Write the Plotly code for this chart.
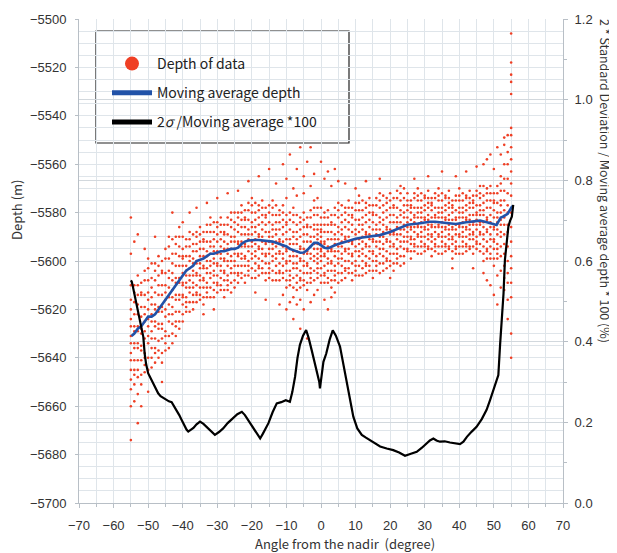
import plotly.graph_objects as go

# ---------------- data ----------------
scatter_angles = list(range(-55, 56))
scatter_depths = [
    [-5610, -5616, -5620, -5624, -5627, -5631, -5634, -5638, -5641, -5645, -5649, -5653, -5582, -5597, -5660, -5674],  # -55
    [-5610, -5613, -5617, -5622, -5627, -5629, -5634, -5636, -5641, -5645, -5647, -5651, -5592, -5658],
    [-5606, -5610, -5614, -5618, -5622, -5627, -5629, -5634, -5636, -5641, -5645, -5648, -5589, -5655, -5667],
    [-5609, -5613, -5614, -5619, -5623, -5628, -5630, -5635, -5637, -5641, -5647, -5651, -5660],
    [-5604, -5608, -5614, -5619, -5622, -5625, -5629, -5632, -5638, -5640, -5643, -5646, -5595],
    [-5599, -5603, -5608, -5613, -5616, -5620, -5624, -5627, -5631, -5634, -5640, -5645, -5654],  # -50
    [-5601, -5607, -5611, -5615, -5618, -5622, -5625, -5629, -5632, -5636, -5640, -5644],
    [-5601, -5604, -5608, -5613, -5618, -5620, -5625, -5627, -5632, -5636, -5638, -5642, -5590],
    [-5598, -5602, -5606, -5610, -5614, -5619, -5621, -5626, -5628, -5633, -5637, -5640],
    [-5600, -5604, -5605, -5610, -5614, -5619, -5621, -5626, -5628, -5632, -5638, -5642, -5650],
    [-5595, -5599, -5605, -5610, -5613, -5616, -5620, -5623, -5629, -5631, -5634, -5637],  # -45
    [-5590, -5594, -5599, -5604, -5607, -5611, -5615, -5618, -5622, -5625, -5631, -5636],
    [-5591, -5597, -5601, -5605, -5608, -5612, -5615, -5619, -5622, -5626, -5630, -5634, -5580],
    [-5590, -5593, -5597, -5602, -5607, -5609, -5614, -5616, -5621, -5625, -5627, -5631],
    [-5586, -5590, -5594, -5598, -5602, -5607, -5609, -5614, -5616, -5621, -5625, -5628],
    [-5595, -5598, -5599, -5602, -5605, -5609, -5610, -5614, -5615, -5618, -5622, -5625, -5584, -5590],  # -40
    [-5591, -5594, -5598, -5602, -5604, -5606, -5609, -5611, -5615, -5617, -5619, -5621],
    [-5588, -5591, -5594, -5598, -5600, -5603, -5606, -5608, -5611, -5613, -5617, -5621, -5580],
    [-5589, -5593, -5596, -5599, -5601, -5604, -5606, -5609, -5611, -5614, -5617, -5620],
    [-5588, -5590, -5593, -5596, -5600, -5601, -5605, -5606, -5610, -5613, -5614, -5617, -5578],
    [-5586, -5589, -5592, -5595, -5598, -5601, -5603, -5606, -5608, -5611, -5614, -5616],  # -35
    [-5588, -5591, -5592, -5595, -5598, -5602, -5603, -5607, -5608, -5611, -5615, -5618, -5622],
    [-5585, -5588, -5592, -5596, -5598, -5600, -5603, -5605, -5609, -5611, -5613, -5615, -5576],
    [-5582, -5585, -5588, -5592, -5594, -5597, -5600, -5602, -5605, -5607, -5611, -5615],
    [-5584, -5588, -5591, -5594, -5596, -5599, -5601, -5604, -5606, -5609, -5612, -5615, -5620],
    [-5584, -5586, -5589, -5592, -5596, -5597, -5601, -5602, -5606, -5609, -5610, -5613, -5574],  # -30
    [-5582, -5585, -5588, -5591, -5594, -5597, -5599, -5602, -5604, -5607, -5610, -5612],
    [-5585, -5588, -5589, -5592, -5595, -5599, -5600, -5604, -5605, -5608, -5612, -5615],
    [-5582, -5585, -5589, -5593, -5595, -5597, -5600, -5602, -5606, -5608, -5610, -5612, -5572],
    [-5580, -5583, -5586, -5590, -5592, -5595, -5598, -5600, -5603, -5605, -5609, -5613],
    [-5580, -5584, -5587, -5590, -5592, -5595, -5597, -5600, -5602, -5605, -5608, -5611],  # -25
    [-5580, -5582, -5585, -5588, -5592, -5593, -5597, -5598, -5602, -5605, -5606, -5609, -5571],
    [-5577, -5580, -5583, -5586, -5589, -5592, -5594, -5597, -5599, -5602, -5605, -5607],
    [-5579, -5582, -5583, -5586, -5589, -5593, -5594, -5598, -5599, -5602, -5606, -5609],
    [-5576, -5579, -5583, -5587, -5589, -5591, -5594, -5596, -5600, -5602, -5604, -5606, -5567],
    [-5574, -5577, -5580, -5584, -5586, -5589, -5592, -5594, -5597, -5599, -5603, -5607],  # -20
    [-5576, -5580, -5583, -5586, -5588, -5591, -5593, -5596, -5598, -5601, -5604, -5607, -5613],
    [-5577, -5579, -5582, -5585, -5589, -5590, -5594, -5595, -5599, -5602, -5603, -5606, -5565],
    [-5575, -5578, -5581, -5584, -5587, -5590, -5592, -5595, -5597, -5600, -5603, -5605],
    [-5578, -5581, -5582, -5585, -5588, -5592, -5593, -5597, -5598, -5601, -5605, -5608, -5616],
    [-5577, -5580, -5584, -5588, -5590, -5592, -5595, -5597, -5601, -5603, -5605, -5607, -5562],  # -15
    [-5575, -5578, -5581, -5585, -5587, -5590, -5593, -5595, -5598, -5600, -5604, -5608],
    [-5577, -5581, -5584, -5587, -5589, -5592, -5594, -5597, -5599, -5602, -5605, -5608, -5568],
    [-5579, -5581, -5584, -5587, -5591, -5592, -5596, -5597, -5601, -5604, -5605, -5608, -5618],
    [-5577, -5580, -5583, -5586, -5589, -5592, -5594, -5597, -5599, -5602, -5605, -5607, -5560, -5614],
    [-5581, -5584, -5585, -5588, -5591, -5595, -5596, -5600, -5601, -5604, -5608, -5611, -5566, -5574, -5620],  # -10
    [-5580, -5583, -5587, -5591, -5593, -5595, -5598, -5600, -5604, -5606, -5608, -5610, -5556, -5617],
    [-5578, -5581, -5584, -5588, -5590, -5593, -5596, -5598, -5601, -5603, -5607, -5611, -5570, -5615, -5624],
    [-5581, -5585, -5588, -5591, -5593, -5596, -5598, -5601, -5603, -5606, -5609, -5612, -5562, -5573, -5618],
    [-5582, -5584, -5587, -5590, -5594, -5595, -5599, -5600, -5604, -5607, -5608, -5611, -5553, -5616, -5628],
    [-5580, -5583, -5586, -5589, -5592, -5595, -5597, -5600, -5602, -5605, -5608, -5610, -5565, -5572, -5620],  # -5
    [-5582, -5585, -5586, -5589, -5592, -5596, -5597, -5601, -5602, -5605, -5609, -5612, -5559, -5632],
    [-5579, -5582, -5586, -5590, -5592, -5594, -5597, -5599, -5603, -5605, -5607, -5609, -5553, -5569, -5617],
    [-5575, -5578, -5581, -5585, -5587, -5590, -5593, -5595, -5598, -5600, -5604, -5608, -5564, -5614],
    [-5585, -5587, -5589, -5591, -5593, -5595, -5597, -5599, -5601, -5603, -5605, -5607, -5578, -5581, -5612, -5574],
    [-5578, -5582, -5585, -5588, -5590, -5593, -5595, -5598, -5600, -5603, -5606, -5609, -5559, -5587, -5592, -5596],  # 0
    [-5580, -5582, -5585, -5588, -5592, -5593, -5597, -5598, -5602, -5605, -5606, -5609, -5566, -5616],
    [-5579, -5582, -5585, -5588, -5591, -5594, -5596, -5599, -5601, -5604, -5607, -5609, -5563, -5620],
    [-5581, -5584, -5585, -5588, -5591, -5595, -5596, -5600, -5601, -5604, -5608, -5611, -5569, -5615],
    [-5578, -5581, -5585, -5589, -5591, -5593, -5596, -5598, -5602, -5604, -5606, -5608, -5562, -5613],
    [-5576, -5579, -5582, -5586, -5588, -5591, -5594, -5596, -5599, -5601, -5605, -5609, -5567],  # 5
    [-5577, -5581, -5584, -5587, -5589, -5592, -5594, -5597, -5599, -5602, -5605, -5608],
    [-5578, -5580, -5583, -5586, -5590, -5591, -5595, -5596, -5600, -5603, -5604, -5607, -5568],
    [-5575, -5578, -5581, -5584, -5587, -5590, -5592, -5595, -5597, -5600, -5603, -5605],
    [-5578, -5581, -5582, -5585, -5588, -5592, -5593, -5597, -5598, -5601, -5605, -5608],
    [-5576, -5579, -5583, -5587, -5589, -5591, -5594, -5596, -5600, -5602, -5604, -5606, -5570],  # 10
    [-5573, -5576, -5579, -5583, -5585, -5588, -5591, -5593, -5596, -5598, -5602, -5606],
    [-5575, -5579, -5582, -5585, -5587, -5590, -5592, -5595, -5597, -5600, -5603, -5606],
    [-5576, -5578, -5581, -5584, -5588, -5589, -5593, -5594, -5598, -5601, -5602, -5605, -5567],
    [-5574, -5577, -5580, -5583, -5586, -5589, -5591, -5594, -5596, -5599, -5602, -5604],
    [-5577, -5580, -5581, -5584, -5587, -5591, -5592, -5596, -5597, -5600, -5604, -5607],  # 15
    [-5574, -5577, -5581, -5585, -5587, -5589, -5592, -5594, -5598, -5600, -5602, -5604],
    [-5572, -5575, -5578, -5582, -5584, -5587, -5590, -5592, -5595, -5597, -5601, -5605, -5566],
    [-5573, -5577, -5580, -5583, -5585, -5588, -5590, -5593, -5595, -5598, -5601, -5604],
    [-5574, -5576, -5579, -5582, -5586, -5587, -5591, -5592, -5596, -5599, -5600, -5603],
    [-5572, -5575, -5578, -5581, -5584, -5587, -5589, -5592, -5594, -5597, -5600, -5602, -5607],  # 20
    [-5574, -5577, -5578, -5581, -5584, -5588, -5589, -5593, -5594, -5597, -5601, -5604],
    [-5571, -5574, -5578, -5582, -5584, -5586, -5589, -5591, -5595, -5597, -5599, -5601],
    [-5569, -5572, -5575, -5579, -5581, -5584, -5587, -5589, -5592, -5594, -5598, -5602],
    [-5570, -5574, -5577, -5580, -5582, -5585, -5587, -5590, -5592, -5595, -5598, -5601],
    [-5572, -5575, -5577, -5579, -5582, -5584, -5586, -5588, -5590, -5592, -5595, -5596],  # 25
    [-5575, -5577, -5578, -5580, -5583, -5586, -5587, -5590, -5591, -5593, -5596, -5599],
    [-5572, -5574, -5578, -5581, -5582, -5584, -5586, -5588, -5591, -5593, -5594, -5596, -5566],
    [-5570, -5573, -5575, -5578, -5580, -5582, -5585, -5586, -5589, -5590, -5594, -5597],
    [-5572, -5575, -5578, -5580, -5582, -5584, -5586, -5588, -5590, -5592, -5594, -5597],
    [-5573, -5574, -5577, -5579, -5582, -5583, -5586, -5587, -5590, -5593, -5594, -5596],  # 30
    [-5571, -5574, -5576, -5578, -5581, -5583, -5585, -5587, -5589, -5591, -5594, -5595, -5565],
    [-5574, -5576, -5577, -5579, -5582, -5585, -5586, -5589, -5590, -5592, -5595, -5598],
    [-5572, -5574, -5578, -5581, -5582, -5584, -5586, -5588, -5591, -5593, -5594, -5596],
    [-5570, -5573, -5575, -5578, -5580, -5582, -5585, -5586, -5589, -5590, -5594, -5597],
    [-5572, -5575, -5578, -5580, -5582, -5584, -5586, -5588, -5590, -5592, -5594, -5597, -5563],  # 35
    [-5573, -5574, -5577, -5579, -5582, -5583, -5586, -5587, -5590, -5593, -5594, -5596],
    [-5571, -5574, -5576, -5578, -5581, -5583, -5585, -5587, -5589, -5591, -5594, -5595],
    [-5575, -5577, -5578, -5580, -5583, -5586, -5587, -5590, -5591, -5593, -5596, -5599, -5603],
    [-5573, -5575, -5579, -5582, -5583, -5585, -5587, -5589, -5592, -5594, -5595, -5597, -5565],
    [-5570, -5573, -5575, -5578, -5580, -5582, -5585, -5586, -5589, -5590, -5594, -5597],  # 40
    [-5572, -5575, -5578, -5580, -5582, -5584, -5586, -5588, -5590, -5592, -5594, -5597],
    [-5573, -5574, -5577, -5579, -5582, -5583, -5586, -5587, -5590, -5593, -5594, -5596, -5563],
    [-5571, -5574, -5576, -5578, -5581, -5583, -5585, -5587, -5589, -5591, -5594, -5595],
    [-5573, -5575, -5576, -5578, -5581, -5584, -5585, -5588, -5589, -5591, -5594, -5597, -5603],
    [-5571, -5573, -5577, -5580, -5581, -5583, -5585, -5587, -5590, -5592, -5593, -5595, -5561],  # 45
    [-5569, -5572, -5574, -5577, -5579, -5581, -5584, -5585, -5588, -5589, -5593, -5596],
    [-5569, -5573, -5576, -5579, -5581, -5584, -5586, -5589, -5591, -5594, -5597, -5600, -5560, -5605],
    [-5570, -5572, -5575, -5578, -5582, -5583, -5587, -5588, -5592, -5595, -5596, -5599, -5558, -5608],
    [-5569, -5572, -5575, -5578, -5581, -5584, -5586, -5589, -5591, -5594, -5597, -5599, -5556, -5610],
    [-5572, -5575, -5576, -5579, -5582, -5586, -5587, -5591, -5592, -5595, -5599, -5602, -5562, -5614],  # 50
    [-5569, -5572, -5576, -5580, -5582, -5584, -5587, -5589, -5593, -5595, -5597, -5599, -5553, -5606, -5618],
    [-5565, -5568, -5571, -5575, -5577, -5580, -5583, -5585, -5588, -5590, -5594, -5598, -5556, -5604, -5611],
    [-5560, -5566, -5571, -5575, -5579, -5582, -5585, -5589, -5593, -5597, -5602, -5607, -5549, -5552, -5612],
    [-5555, -5560, -5566, -5572, -5577, -5580, -5585, -5588, -5594, -5600, -5605, -5609, -5548, -5616, -5624],
    [-5506, -5518, -5523, -5526, -5531, -5545, -5548, -5553, -5558, -5563, -5568, -5573, -5580, -5586,
     -5592, -5598, -5603, -5609, -5615, -5630, -5640],  # 55
]

ma_angle = [-54.8, -54, -53, -52, -51, -50, -49, -48, -47, -46, -45, -44, -43, -42, -41,
            -40, -39, -38, -37, -36, -35, -34, -33, -32, -31, -30, -29, -28, -27, -26,
            -25, -24, -23, -22, -21, -20, -19, -18, -17, -16, -15, -14, -13, -12, -11,
            -10, -9, -8, -7, -6, -5, -4, -3, -2, -1, 0, 1, 2, 3, 4, 5, 6, 7, 8, 9, 10,
            12, 14, 17, 20, 23, 25, 28, 30, 31.5, 33, 35, 37, 39, 42, 44, 46, 48, 49,
            50.8, 52, 52.6, 54, 55.2, 55.6]
ma_depth = [-5631, -5630, -5628, -5627, -5625, -5623, -5623, -5622, -5620, -5618, -5616,
            -5614, -5612, -5610, -5608, -5606, -5604, -5603, -5602, -5600, -5599.6, -5599,
            -5598, -5597, -5597, -5596.5, -5596, -5596, -5595.5, -5595, -5595, -5594.5,
            -5593, -5592, -5591.5, -5591.3, -5591.3, -5591.3, -5591.5, -5591.5, -5592,
            -5592, -5592.5, -5593, -5593.5, -5594, -5595, -5595.5, -5596, -5596.6, -5596.5,
            -5595.5, -5594, -5592.5, -5592.5, -5593.5, -5594.5, -5594.8, -5594, -5593.5,
            -5593, -5592.5, -5592, -5591.5, -5591, -5590.8, -5590.3, -5590, -5589.3, -5588,
            -5586, -5585, -5584.5, -5584, -5583.8, -5583.8, -5584, -5584.3, -5584.7, -5584,
            -5583.6, -5583.3, -5584, -5584.5, -5585.1, -5582, -5581.7, -5580.5, -5577.6,
            -5577.6]

sd_angle = [-55.0, -54.76, -54.5, -54.3, -53.8, -53.3, -52.8, -52.4, -51.9, -51.4, -51.0,
            -50.6, -50.0, -49.3, -48.5, -47.8, -47.1, -46.4, -45.6, -44.8, -44.0, -43.2,
            -42.5, -41.7, -41.0, -40.3, -39.5, -38.9, -38.4, -37.6, -36.9, -36.0, -35.0,
            -34.0, -33.1, -32.0, -30.7, -29.5, -28.3, -27.0, -25.4, -24.2, -22.9, -22.0,
            -20.5, -19.0, -17.6, -16.8, -16.0, -15.2, -14.0, -12.8, -11.5, -10.2, -9.0,
            -8.3, -7.5, -6.8, -6.1, -5.2, -4.3, -3.6, -2.7, -2.0, -1.2, -0.5, -0.3, 0.2,
            0.7, 1.5, 2.5, 3.4, 4.3, 5.5, 6.4, 7.4, 8.4, 9.35, 10.5, 11.8, 13.0, 14.2,
            15.6, 17.1, 19.0, 20.9, 22.6, 24.3, 26.0, 27.7, 29.2, 30.6, 31.5, 32.5, 33.4,
            34.4, 35.8, 37.3, 38.8, 40.2, 41.2, 42.2, 43.6, 45.0, 46.5, 47.9, 48.9, 49.9,
            50.6, 51.3, 51.8, 52.3, 52.8, 53.2, 53.7, 54.2, 54.7, 55.2, 55.6]
sd_value = [0.552, 0.549, 0.540, 0.532, 0.505, 0.487, 0.470, 0.454, 0.430, 0.412, 0.370,
            0.345, 0.322, 0.310, 0.297, 0.285, 0.272, 0.265, 0.260, 0.256, 0.252, 0.250,
            0.240, 0.230, 0.218, 0.206, 0.192, 0.182, 0.177, 0.182, 0.186, 0.195, 0.202,
            0.196, 0.189, 0.178, 0.169, 0.176, 0.185, 0.198, 0.212, 0.220, 0.226, 0.218,
            0.198, 0.178, 0.160, 0.172, 0.185, 0.198, 0.225, 0.247, 0.250, 0.255, 0.251,
            0.275, 0.313, 0.360, 0.392, 0.415, 0.429, 0.410, 0.379, 0.355, 0.330, 0.300,
            0.284, 0.320, 0.350, 0.370, 0.405, 0.428, 0.415, 0.388, 0.345, 0.297, 0.250,
            0.214, 0.185, 0.169, 0.162, 0.156, 0.148, 0.140, 0.135, 0.131, 0.125, 0.117,
            0.122, 0.127, 0.137, 0.148, 0.155, 0.160, 0.155, 0.152, 0.153, 0.150, 0.148,
            0.146, 0.152, 0.164, 0.177, 0.189, 0.208, 0.231, 0.255, 0.280, 0.300, 0.317,
            0.392, 0.454, 0.520, 0.603, 0.640, 0.685, 0.700, 0.710, 0.739]

x_ticks = [-70, -60, -50, -40, -30, -20, -10, 0, 10, 20, 30, 40, 50, 60, 70]
y_ticks = [-5500, -5520, -5540, -5560, -5580, -5600, -5620, -5640, -5660, -5680, -5700]
y2_ticks = [0.0, 0.2, 0.4, 0.6, 0.8, 1.0, 1.2]

legend_names = ["Depth of data", "Moving average depth", "2<i>σ</i> /Moving average *100"]

# ---------------- figure ----------------
RED = "#ef3f24"
BLUE = "#2152a8"
GRID = "#dfe5ea"
GRID2 = "#d2d8dd"
AXC = "#b8bfc6"
TICKFONT = dict(family="Liberation Sans, Arial", size=13, color="#333333")
TITLEFONT = dict(family="Noto Sans CJK JP, Noto Sans", size=13, color="#333333")

# page body has an 8px margin: plot area sits at window x 79..563, y 19..503
OFF = 8
W, H = 617 - OFF, 553 - OFF
ML, MT = 79 - OFF, 19 - OFF
PW, PH = 484, 484


def px_x(xw):
    return (xw - 79) / PW


def px_y(yw):
    return (503 - yw) / PH


sx, sy = [], []
for a, col in zip(scatter_angles, scatter_depths):
    for d in col:
        sx.append(a)
        sy.append(d)

fig = go.Figure()
fig.add_trace(go.Scatter(x=sx, y=sy, mode="markers", showlegend=False,
                         marker=dict(size=2.6, color=RED, line=dict(width=0)),
                         hoverinfo="skip"))
fig.add_trace(go.Scatter(x=ma_angle, y=ma_depth, mode="lines", showlegend=False,
                         line=dict(color=BLUE, width=2.6)))
fig.add_trace(go.Scatter(x=sd_angle, y=sd_value, mode="lines", showlegend=False,
                         yaxis="y2", line=dict(color="black", width=2.2)))

# legend-only traces
fig.add_trace(go.Scatter(x=[None], y=[None], mode="markers", name=legend_names[0],
                         legendgroup="a", marker=dict(size=14, color=RED)))
fig.add_trace(go.Scatter(x=[None], y=[None], mode="lines", name=legend_names[1],
                         legendgroup="b", line=dict(color=BLUE, width=5)))
fig.add_trace(go.Scatter(x=[None], y=[None], mode="lines", name=legend_names[2],
                         legendgroup="c", line=dict(color="black", width=5)))

fig.update_layout(
    width=W, height=H,
    margin=dict(l=ML, r=W - ML - PW, t=MT, b=H - MT - PH, pad=0),
    paper_bgcolor="white", plot_bgcolor="white",
    showlegend=True,
    legend=dict(x=px_x(107), y=px_y(48), xanchor="left", yanchor="top",
                bgcolor="rgba(0,0,0,0)", borderwidth=0, tracegroupgap=8,
                itemwidth=40,
                font=dict(family="Noto Sans CJK JP, Noto Sans", size=14, color="#222")),
    xaxis=dict(range=[-70, 70], tickvals=x_ticks, showgrid=True, gridcolor=GRID,
               gridwidth=1, zeroline=False, showline=True, linecolor=AXC,
               ticks="outside", ticklen=4, tickcolor=AXC, tickfont=TICKFONT,
               ticklabelstandoff=6, automargin=False,
               minor=dict(dtick=5, showgrid=True, gridcolor=GRID, ticks="outside",
                          ticklen=3, tickcolor=AXC)),
    yaxis=dict(range=[-5700, -5500], tickvals=y_ticks, showgrid=True, gridcolor=GRID,
               zeroline=False, showline=True, linecolor=AXC, ticks="outside",
               ticklen=3, tickcolor=AXC, tickfont=TICKFONT, ticklabelstandoff=6,
               automargin=False,
               minor=dict(dtick=5, showgrid=True, gridcolor=GRID)),
    yaxis2=dict(range=[0, 1.2], tickvals=y2_ticks, tickformat=".1f", overlaying="y",
                side="right", showgrid=True, gridcolor=GRID2, zeroline=False,
                showline=True, linecolor=AXC, ticks="outside", ticklen=4,
                tickcolor=AXC, tickfont=TICKFONT, ticklabelstandoff=4,
                automargin=False,
                minor=dict(dtick=0.1, ticks="outside", ticklen=3, tickcolor=AXC)),
    shapes=[dict(type="rect", xref="paper", yref="paper",
                 x0=px_x(96), x1=px_x(349), y0=px_y(143), y1=px_y(31),
                 line=dict(color="#222", width=1.2), fillcolor="white", layer="between")],
    annotations=[
        dict(text="Depth (m)", xref="paper", yref="paper",
             x=px_x(17), y=px_y(210), showarrow=False, textangle=-90,
             xanchor="center", yanchor="middle", font=TITLEFONT),
        dict(text="2 * Standard Deviation / Moving average depth * 100 (%)",
             xref="paper", yref="paper", x=px_x(606), y=px_y(181),
             showarrow=False, textangle=90, xanchor="center", yanchor="middle",
             font=dict(family="Noto Sans CJK JP, Noto Sans", size=12.5, color="#333333")),
        dict(text="Angle from the nadir  (degree)", xref="paper", yref="paper",
             x=px_x(345), y=px_y(543), showarrow=False,
             xanchor="center", yanchor="middle", font=TITLEFONT),
    ],
)

fig.write_html("out.html")
